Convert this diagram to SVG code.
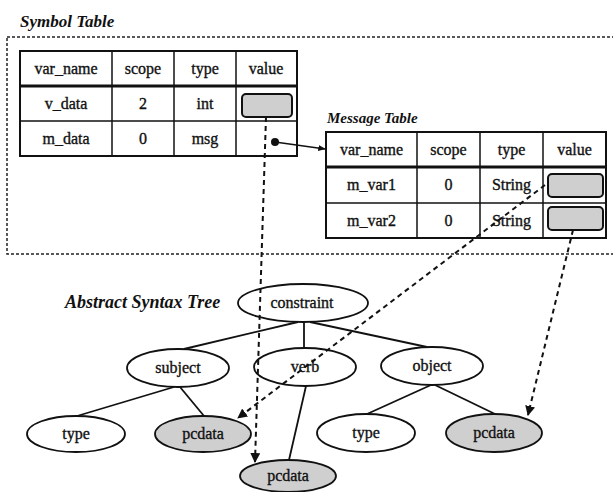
<svg xmlns="http://www.w3.org/2000/svg" width="613" height="492" viewBox="0 0 613 492">
  <style>
    .cell { font-family: "Liberation Serif", "Times New Roman", serif; font-size: 16px; fill: #111; stroke: #111; stroke-width: 0.35; text-anchor: middle; }
    .title { font-family: "Liberation Serif", "Times New Roman", serif; font-weight: bold; font-style: italic; fill: #111; }
    .tbl { fill: #fff; stroke: #111; stroke-width: 2; }
    .grid { stroke: #111; stroke-width: 1.5; }
    .hdr { stroke: #111; stroke-width: 3; }
    .slot { fill: #cfcfcf; stroke: #111; stroke-width: 2; }
    .node { fill: none; stroke: #111; stroke-width: 1.8; }
    .node.leaf { fill: #cfcfcf; }
    .edge { stroke: #111; stroke-width: 1.8; fill: none; }
    .ref { stroke: #111; stroke-width: 2; fill: none; stroke-dasharray: 5 4; marker-end: url(#tip); }
  </style>
  <defs>
    <marker id="tip" viewBox="0 0 10 10" refX="9" refY="5" markerWidth="5" markerHeight="5" orient="auto">
      <path d="M0,0 L10,5 L0,10 z" fill="#111"/>
    </marker>
    <marker id="tipSolid" viewBox="0 0 10 10" refX="9" refY="5" markerWidth="5" markerHeight="5" orient="auto">
      <path d="M0,1 L10,5 L0,9 z" fill="#111"/>
    </marker>
  </defs>

  <rect width="613" height="492" fill="#fff"/>

  <!-- symbol table area -->
  <text class="title" x="20" y="27" font-size="17">Symbol Table</text>
  <rect x="7" y="37" width="620" height="217" fill="none" stroke="#222" stroke-width="1.5" stroke-dasharray="3 2"/>

  <g id="symbol-table">
    <rect class="tbl" x="20" y="51" width="277" height="105"/>
    <line class="grid" x1="112" y1="51" x2="112" y2="156"/>
    <line class="grid" x1="174" y1="51" x2="174" y2="156"/>
    <line class="grid" x1="236" y1="51" x2="236" y2="156"/>
    <line class="hdr" x1="20" y1="86" x2="297" y2="86"/>
    <line class="grid" x1="20" y1="121" x2="297" y2="121"/>
    <text class="cell" x="66" y="74">var_name</text>
    <text class="cell" x="143" y="74">scope</text>
    <text class="cell" x="205" y="74">type</text>
    <text class="cell" x="266" y="74">value</text>
    <text class="cell" x="66" y="109">v_data</text>
    <text class="cell" x="143" y="109">2</text>
    <text class="cell" x="205" y="109">int</text>
    <rect class="slot" x="242" y="94" width="50" height="23" rx="4"/>
    <text class="cell" x="66" y="144">m_data</text>
    <text class="cell" x="143" y="144">0</text>
    <text class="cell" x="205" y="144">msg</text>
    <circle cx="275" cy="142" r="4" fill="#111"/>
  </g>

  <g id="message-table">
    <text class="title" x="327" y="123" font-size="15">Message Table</text>
    <rect class="tbl" x="326" y="132" width="280" height="106"/>
    <line class="grid" x1="417" y1="132" x2="417" y2="238"/>
    <line class="grid" x1="480" y1="132" x2="480" y2="238"/>
    <line class="grid" x1="543" y1="132" x2="543" y2="238"/>
    <line class="hdr" x1="326" y1="167" x2="606" y2="167"/>
    <line class="grid" x1="326" y1="203" x2="606" y2="203"/>
    <text class="cell" x="371.5" y="155">var_name</text>
    <text class="cell" x="448.5" y="155">scope</text>
    <text class="cell" x="511.5" y="155">type</text>
    <text class="cell" x="574.5" y="155">value</text>
    <text class="cell" x="371.5" y="190">m_var1</text>
    <text class="cell" x="448.5" y="190">0</text>
    <text class="cell" x="511.5" y="190">String</text>
    <rect class="slot" x="548" y="174" width="55" height="23" rx="4"/>
    <text class="cell" x="371.5" y="226">m_var2</text>
    <text class="cell" x="448.5" y="226">0</text>
    <text class="cell" x="511.5" y="226">String</text>
    <rect class="slot" x="548" y="207" width="55" height="23" rx="4"/>
  </g>

  <!-- abstract syntax tree -->
  <text class="title" x="65" y="308" font-size="18">Abstract Syntax Tree</text>

  <g id="constraint">
    <ellipse class="node" cx="303" cy="303" rx="65" ry="19"/>
    <text class="cell" x="302" y="308">constraint</text>
  </g>
  <g id="subject">
    <ellipse class="node" cx="178" cy="368" rx="51" ry="19"/>
    <text class="cell" x="178" y="373">subject</text>
  </g>
  <g id="verb">
    <ellipse class="node" cx="305" cy="367" rx="51" ry="19"/>
    <text class="cell" x="305" y="372">verb</text>
  </g>
  <g id="object">
    <ellipse class="node" cx="432" cy="366" rx="51" ry="19"/>
    <text class="cell" x="432" y="371">object</text>
  </g>
  <g id="subject-type">
    <ellipse class="node" cx="76" cy="434" rx="49" ry="18"/>
    <text class="cell" x="76" y="439">type</text>
  </g>
  <g id="subject-pcdata">
    <ellipse class="node leaf" cx="203" cy="434" rx="48" ry="18"/>
    <text class="cell" x="203" y="439">pcdata</text>
  </g>
  <g id="verb-pcdata">
    <ellipse class="node leaf" cx="288" cy="476" rx="48" ry="16"/>
    <text class="cell" x="288" y="481">pcdata</text>
  </g>
  <g id="object-type">
    <ellipse class="node" cx="366" cy="433" rx="49" ry="19"/>
    <text class="cell" x="366" y="438">type</text>
  </g>
  <g id="object-pcdata">
    <ellipse class="node leaf" cx="494" cy="433" rx="48" ry="19"/>
    <text class="cell" x="494" y="438">pcdata</text>
  </g>

  <g id="connectors">
    <!-- tree edges -->
    <line class="edge" x1="298" y1="322" x2="184" y2="349"/>
    <line class="edge" x1="304" y1="322" x2="304" y2="348"/>
    <line class="edge" x1="310" y1="322" x2="427" y2="347"/>
    <line class="edge" x1="174" y1="387" x2="77" y2="416"/>
    <line class="edge" x1="180" y1="387" x2="204" y2="416"/>
    <line class="edge" x1="306" y1="386" x2="289" y2="460"/>
    <line class="edge" x1="431" y1="385" x2="367" y2="414"/>
    <line class="edge" x1="435" y1="385" x2="495" y2="414"/>
    <!-- table references -->
    <line x1="275" y1="142" x2="325" y2="149" stroke="#111" stroke-width="1.5" marker-end="url(#tipSolid)"/>
    <line class="ref" x1="266" y1="117" x2="255" y2="462"/>
    <line class="ref" x1="545" y1="185" x2="238" y2="418"/>
    <line class="ref" x1="573" y1="230" x2="528" y2="415"/>
  </g>
</svg>
